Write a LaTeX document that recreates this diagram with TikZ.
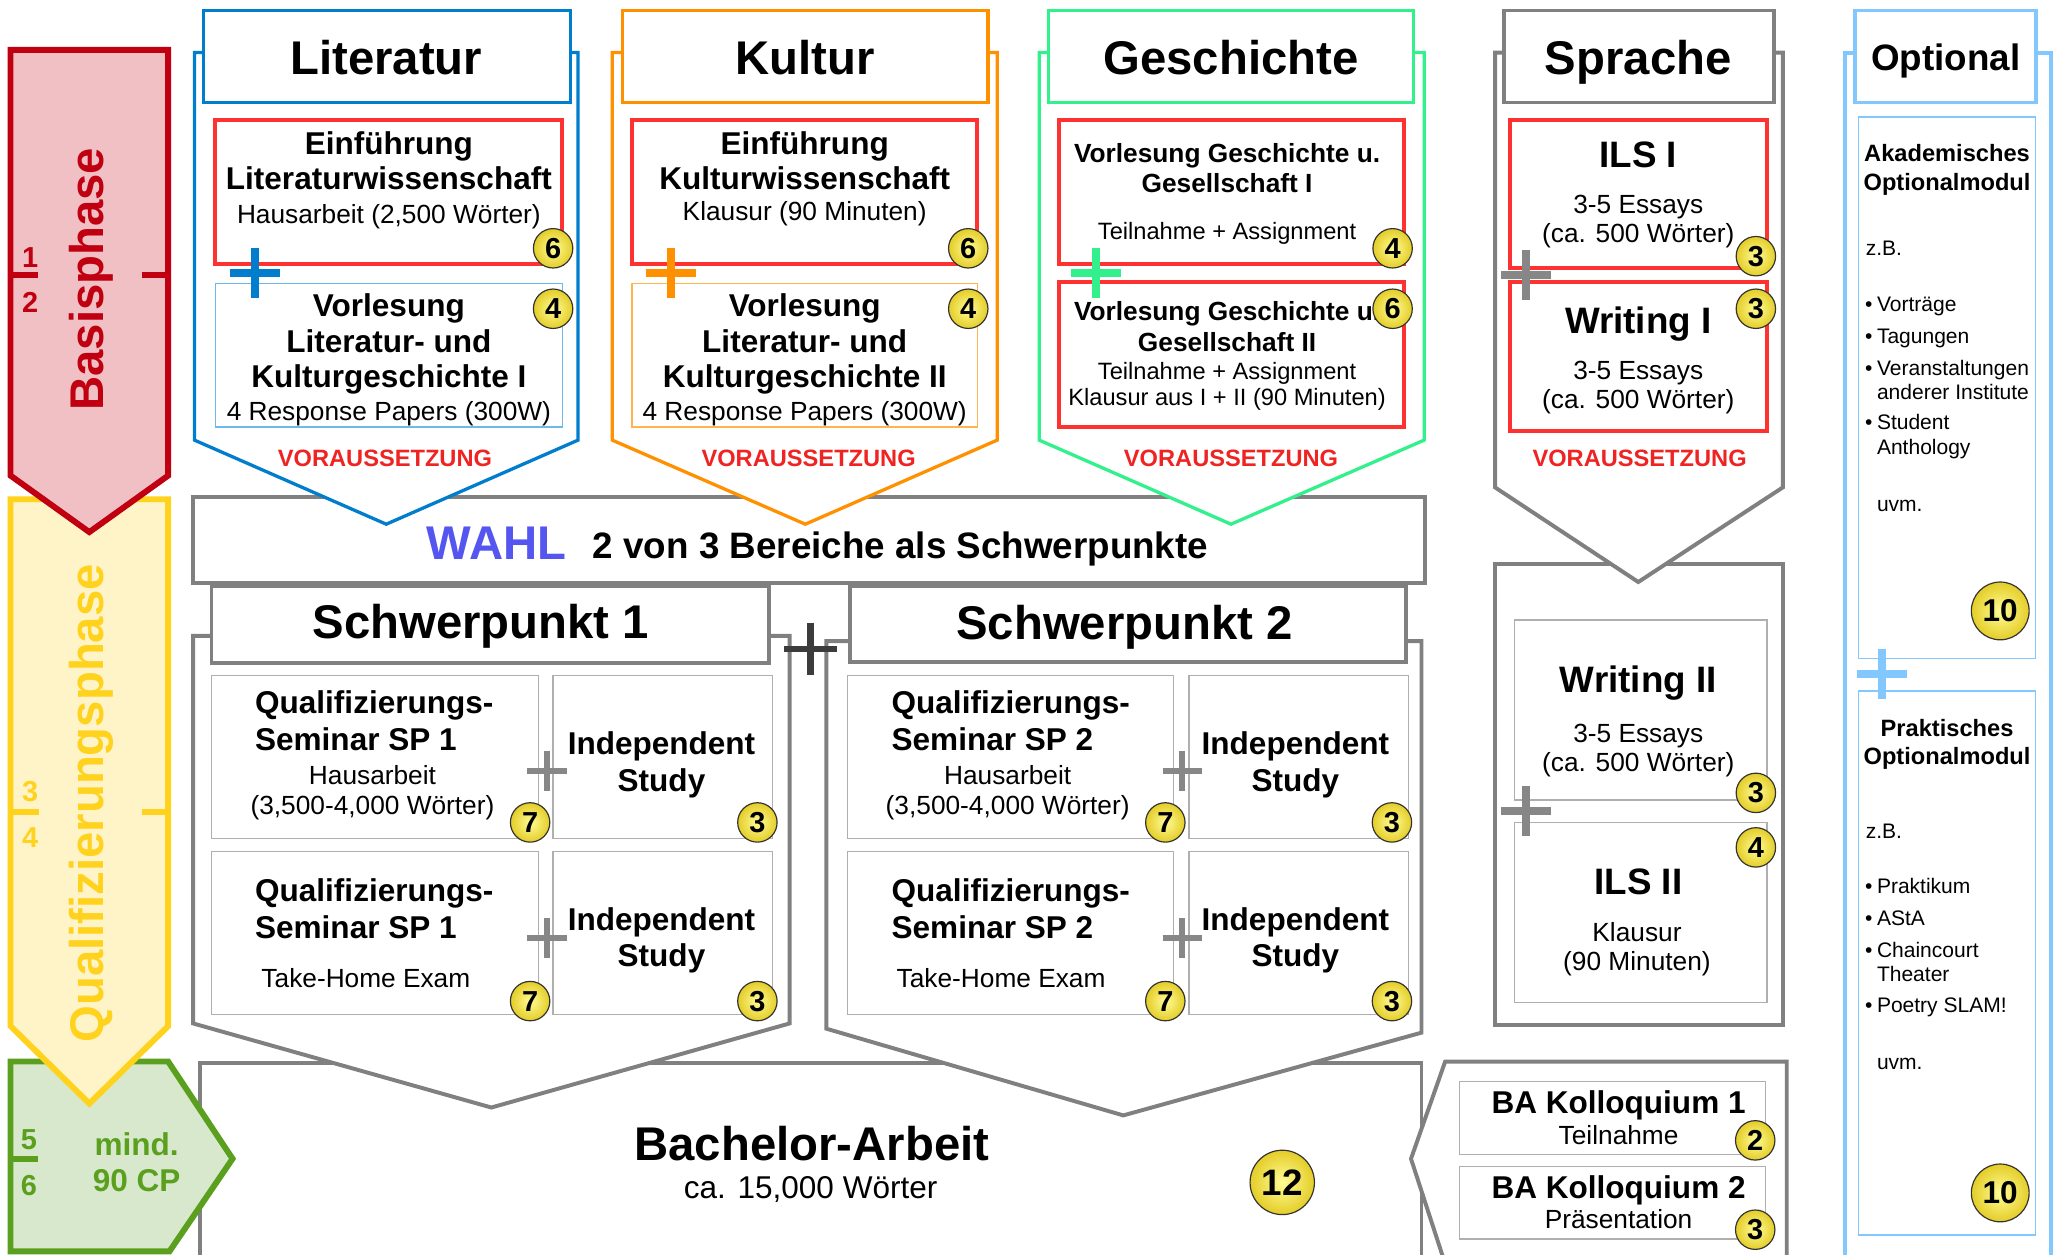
\documentclass[tikz,border=0pt]{standalone}
\usepackage{fontspec}
\setmainfont{Liberation Sans}
\usetikzlibrary{calc}

\definecolor{litblue}{RGB}{0,125,205}
\definecolor{litlight}{RGB}{110,185,235}
\definecolor{kulorange}{RGB}{255,145,0}
\definecolor{kullight}{RGB}{255,180,80}
\definecolor{gesgreen}{RGB}{50,240,140}
\definecolor{modred}{RGB}{255,50,50}
\definecolor{vorred}{RGB}{240,35,35}
\definecolor{framegray}{RGB}{128,128,128}
\definecolor{thingray}{RGB}{175,175,175}
\definecolor{plusgray}{RGB}{135,135,135}
\definecolor{darkplus}{RGB}{60,60,60}
\definecolor{optblue}{RGB}{130,200,255}
\definecolor{basisred}{RGB}{192,0,16}
\definecolor{basisfill}{RGB}{240,192,196}
\definecolor{qualiyellow}{RGB}{255,210,30}
\definecolor{qualifill}{RGB}{255,243,200}
\definecolor{bagreen}{RGB}{90,160,30}
\definecolor{bafill}{RGB}{216,232,204}
\definecolor{wahlblue}{RGB}{85,85,240}
\definecolor{badgelight}{RGB}{255,252,150}
\definecolor{badgedark}{RGB}{228,205,40}

\def\plusmark[#1](#2)(#3){\draw[#1] ($(#2)+(-#3,0)$) -- ($(#2)+(#3,0)$); \draw[#1] ($(#2)+(0,-#3)$) -- ($(#2)+(0,#3)$);}
\def\cpbadge(#1)#2#3{\node[badge] (#2) at (#1) {#3};}

\tikzset{
  headtxt/.style={font=\fontsize{36}{40}\selectfont\bfseries, anchor=base, inner sep=0pt},
  bigtxt/.style={font=\fontsize{28}{32}\selectfont\bfseries, anchor=base, inner sep=0pt},
  modtxt/.style={font=\fontsize{24}{28}\selectfont\bfseries, anchor=base, inner sep=0pt},
  subtxt/.style={font=\fontsize{20}{23}\selectfont, anchor=base, inner sep=0pt},
  gestxt/.style={font=\fontsize{20}{23}\selectfont\bfseries, anchor=base, inner sep=0pt},
  smalltxt/.style={font=\fontsize{18}{21}\selectfont, anchor=base, inner sep=0pt},
  vortxt/.style={font=\fontsize{18}{21}\selectfont\bfseries, text=vorred, anchor=base, inner sep=0pt},
  opthead/.style={font=\fontsize{18}{21}\selectfont\bfseries, anchor=base, inner sep=0pt},
  opttxt/.style={font=\fontsize{16}{19}\selectfont, anchor=base west, inner sep=0pt},
  phasenum/.style={font=\fontsize{22}{24}\selectfont\bfseries, anchor=base, inner sep=0pt},
  phaselabel/.style={font=\fontsize{36}{40}\selectfont\bfseries, anchor=base, inner sep=0pt, rotate=90},
  badge/.style={circle, draw=black!80, line width=0.9pt, minimum size=30pt, inner sep=0pt,
    inner color=badgelight, outer color=badgedark, font=\fontsize{22}{24}\selectfont\bfseries},
  colframe/.style={fill=white, line width=2.5pt},
  modframe/.style={draw=modred, line width=3pt},
  thinframe/.style={draw=thingray, line width=1pt},
  grayframe/.style={draw=framegray, fill=white, line width=3pt},
}

\begin{document}
\begin{tikzpicture}[x=1pt, y=-1pt]
		%%%%% START %%%%%
		\useasboundingbox (0,0) rectangle (1568,955);
		\fill[white] (0,0) rectangle (1568,955);
		
		%%%%% bachelor %%%%%
		\draw[grayframe] (152,809) rectangle (1082,962);
		\node[headtxt] (baTitle) at (618,883) {Bachelor-Arbeit};
		\node[font=\fontsize{24}{28}\selectfont, anchor=base, inner sep=0pt] (baSub) at (617,912.5) {ca. 15,000 Wörter};
		\node[badge, minimum size=49pt, font=\fontsize{28}{30}\selectfont\bfseries] (baCp) at (976,900) {12};
		
		\draw[grayframe] (1100,808) -- (1360,808) -- (1360,962) -- (1100,962) -- (1074,882) -- cycle;
		\draw[thinframe] (1111,823) rectangle (1344,879);
		\draw[thinframe] (1111,888) rectangle (1344,943);
		\node[modtxt] (kolOneA) at (1232,847.5) {BA Kolloquium 1};
		\node[subtxt] (kolOneB) at (1232,871) {Teilnahme};
		\node[modtxt] (kolTwoA) at (1232,912) {BA Kolloquium 2};
		\node[subtxt] (kolTwoB) at (1232,935) {Präsentation};
		\cpbadge(1336,868){kolCpA}{2};
		\cpbadge(1336,936){kolCpB}{3};
		
		%%%%% phases %%%%%
		\draw[draw=bagreen, fill=bafill, line width=4.5pt] (8,808) -- (128,808) -- (177,882) -- (129,952.5) -- (8,952.5) -- cycle;
		\draw[bagreen, line width=4.5pt] (8,882) -- (29,882);
		\node[phasenum, text=bagreen] (numFive) at (22,875) {5};
		\node[phasenum, text=bagreen] (numSix) at (22,910) {6};
		\node[modtxt, text=bagreen] (minCpA) at (104,879.5) {mind.};
		\node[modtxt, text=bagreen] (minCpB) at (104,907) {90 CP};
		
		\draw[draw=qualiyellow, fill=qualifill, line width=4.5pt] (8,380) -- (128,380) -- (128,781) -- (68,840) -- (8,781) -- cycle;
		\draw[qualiyellow, line width=4.5pt] (8,618) -- (30,618);
		\draw[qualiyellow, line width=4.5pt] (108,618) -- (128,618);
		\node[phasenum, text=qualiyellow] (numThree) at (23,610) {3};
		\node[phasenum, text=qualiyellow] (numFour) at (23,645) {4};
		\node[phaselabel, text=qualiyellow] (qualiLabel) at (78.5,611.5) {Qualifizierungsphase};
		
		\draw[draw=basisred, fill=basisfill, line width=4.5pt] (8,38) -- (128,38) -- (128,362) -- (68,405) -- (8,362) -- cycle;
		\draw[basisred, line width=4.5pt] (8,209) -- (29,209);
		\draw[basisred, line width=4.5pt] (108,209) -- (128,209);
		\node[phasenum, text=basisred] (numOne) at (23,203.5) {1};
		\node[phasenum, text=basisred] (numTwo) at (23,237.5) {2};
		\node[phaselabel, text=basisred] (basisLabel) at (78.5,212.5) {Basisphase};
		
		%%%%% schwerpunkte %%%%%
		\draw[grayframe] (147,484) -- (147,779) -- (374,843) -- (601,779) -- (601,484) -- cycle;
		\draw[grayframe] (629,488) -- (629,783) -- (855,849) -- (1082,786) -- (1082,488) -- cycle;
		
		\draw[thinframe] (161,514) rectangle (410,638);
		\draw[thinframe] (421,514) rectangle (588,638);
		\draw[thinframe] (161,648) rectangle (410,772);
		\draw[thinframe] (421,648) rectangle (588,772);
		\node[modtxt, anchor=base west] (spOneSemA) at (194,543) {Qualifizierungs-};
		\node[modtxt, anchor=base west] (spOneSemB) at (194,571.5) {Seminar SP 1};
		\node[subtxt] (spOneSemC) at (283.5,597.5) {Hausarbeit};
		\node[subtxt] (spOneSemD) at (283.5,620) {(3,500-4,000 Wörter)};
		\node[modtxt] (spOneIndA) at (503.5,574.5) {Independent};
		\node[modtxt] (spOneIndB) at (503.5,602.5) {Study};
		\node[modtxt, anchor=base west] (spOneExamA) at (194,686) {Qualifizierungs-};
		\node[modtxt, anchor=base west] (spOneExamB) at (194,714) {Seminar SP 1};
		\node[subtxt] (spOneExamC) at (278.5,752) {Take-Home Exam};
		\node[modtxt] (spOneIndC) at (503.5,708) {Independent};
		\node[modtxt] (spOneIndD) at (503.5,735.5) {Study};
		\plusmark[plusgray, line width=4.5pt](416.5,587)(15);
		\plusmark[plusgray, line width=4.5pt](416.5,714)(15);
		\cpbadge(403.5,626){spOneCpA}{7};
		\cpbadge(576.5,626){spOneCpB}{3};
		\cpbadge(403.5,762){spOneCpC}{7};
		\cpbadge(576.5,762){spOneCpD}{3};
		
		\draw[thinframe] (645,514) rectangle (893,638);
		\draw[thinframe] (905,514) rectangle (1072,638);
		\draw[thinframe] (645,648) rectangle (893,772);
		\draw[thinframe] (905,648) rectangle (1072,772);
		\node[modtxt, anchor=base west] (spTwoSemA) at (678.5,543) {Qualifizierungs-};
		\node[modtxt, anchor=base west] (spTwoSemB) at (678.5,571.5) {Seminar SP 2};
		\node[subtxt] (spTwoSemC) at (767,597.5) {Hausarbeit};
		\node[subtxt] (spTwoSemD) at (767,620) {(3,500-4,000 Wörter)};
		\node[modtxt] (spTwoIndA) at (986,574.5) {Independent};
		\node[modtxt] (spTwoIndB) at (986,602.5) {Study};
		\node[modtxt, anchor=base west] (spTwoExamA) at (678.5,686) {Qualifizierungs-};
		\node[modtxt, anchor=base west] (spTwoExamB) at (678.5,714) {Seminar SP 2};
		\node[subtxt] (spTwoExamC) at (762,752) {Take-Home Exam};
		\node[modtxt] (spTwoIndC) at (986,708) {Independent};
		\node[modtxt] (spTwoIndD) at (986,735.5) {Study};
		\plusmark[plusgray, line width=4.5pt](900,587)(15);
		\plusmark[plusgray, line width=4.5pt](900,714)(15);
		\cpbadge(887,626){spTwoCpA}{7};
		\cpbadge(1059.5,626){spTwoCpB}{3};
		\cpbadge(887,762){spTwoCpC}{7};
		\cpbadge(1059.5,762){spTwoCpD}{3};
		
		\draw[grayframe] (147,378) rectangle (1085,444);
		\node[headtxt, text=wahlblue] (wahlWord) at (378,426) {WAHL};
		\node[bigtxt, anchor=base west] (wahlText) at (451,425) {2 von 3 Bereiche als Schwerpunkte};
		
		\draw[grayframe] (161,446) rectangle (585,505);
		\node[headtxt] (spOneHead) at (366,486) {Schwerpunkt 1};
		\draw[grayframe] (647,446) rectangle (1070,504);
		\node[headtxt] (spTwoHead) at (856,487) {Schwerpunkt 2};
		
		%%%%% literatur %%%%%
		\draw[colframe, draw=litblue] (148,40) -- (148,335) -- (294,399) -- (440,335) -- (440,40) -- cycle;
		\draw[colframe, draw=litblue] (155,8) rectangle (434,78);
		\node[headtxt] (litHead) at (294,56.5) {Literatur};
		\draw[modframe] (164,91) rectangle (428,201);
		\node[modtxt] (litIntroA) at (296,117.3) {Einführung};
		\node[modtxt] (litIntroB) at (296,144) {Literaturwissenschaft};
		\node[subtxt] (litIntroC) at (296,170) {Hausarbeit (2,500 Wörter)};
		\draw[draw=litlight, line width=1pt] (164,216) rectangle (428,325);
		\node[modtxt] (litLecA) at (296,241) {Vorlesung};
		\node[modtxt] (litLecB) at (296,268) {Literatur- und};
		\node[modtxt] (litLecC) at (296,295.3) {Kulturgeschichte I};
		\node[subtxt] (litLecD) at (296,319.7) {4 Response Papers (300W)};
		\node[vortxt] (litReq) at (293,355) {VORAUSSETZUNG};
		\plusmark[litblue, line width=6pt](194,208)(19);
		\cpbadge(421,189){litCpA}{6};
		\cpbadge(421,235){litCpB}{4};
		
		%%%%% kultur %%%%%
		\draw[colframe, draw=kulorange] (466,40) -- (466,335) -- (613,399) -- (759,335) -- (759,40) -- cycle;
		\draw[colframe, draw=kulorange] (474,8) rectangle (752,78);
		\node[headtxt] (kulHead) at (613,57) {Kultur};
		\draw[modframe] (481,91) rectangle (744,201);
		\node[modtxt] (kulIntroA) at (612.5,117.3) {Einführung};
		\node[modtxt] (kulIntroB) at (612.5,144) {Kulturwissenschaft};
		\node[subtxt] (kulIntroC) at (612.5,167.5) {Klausur (90 Minuten)};
		\draw[draw=kullight, line width=1pt] (481,216) rectangle (744,325);
		\node[modtxt] (kulLecA) at (612.5,241) {Vorlesung};
		\node[modtxt] (kulLecB) at (612.5,268) {Literatur- und};
		\node[modtxt] (kulLecC) at (612.5,295.3) {Kulturgeschichte II};
		\node[subtxt] (kulLecD) at (612.5,319.7) {4 Response Papers (300W)};
		\node[vortxt] (kulReq) at (615.5,355) {VORAUSSETZUNG};
		\plusmark[kulorange, line width=6pt](510.5,208)(19);
		\cpbadge(737,189){kulCpA}{6};
		\cpbadge(737,235){kulCpB}{4};
		
		%%%%% geschichte %%%%%
		\draw[colframe, draw=gesgreen] (791,40) -- (791,335) -- (937,399) -- (1084,335) -- (1084,40) -- cycle;
		\draw[colframe, draw=gesgreen] (798,8) rectangle (1076,78);
		\node[headtxt] (gesHead) at (937,57) {Geschichte};
		\draw[modframe] (806,91) rectangle (1069,201);
		\node[gestxt] (gesLecA) at (934,124) {Vorlesung Geschichte u.};
		\node[gestxt] (gesLecB) at (934,146.5) {Gesellschaft I};
		\node[smalltxt] (gesLecC) at (934,182.5) {Teilnahme + Assignment};
		\draw[modframe] (806,215) rectangle (1069,325);
		\node[gestxt] (gesLecD) at (934,244.2) {Vorlesung Geschichte u.};
		\node[gestxt] (gesLecE) at (934,267.2) {Gesellschaft II};
		\node[smalltxt] (gesLecF) at (934,289) {Teilnahme + Assignment};
		\node[smalltxt] (gesLecG) at (934,308.7) {Klausur aus I + II (90 Minuten)};
		\node[vortxt] (gesReq) at (937,355) {VORAUSSETZUNG};
		\plusmark[gesgreen, line width=6pt](834,208)(19);
		\cpbadge(1060,189){gesCpA}{4};
		\cpbadge(1060,235){gesCpB}{6};
		
		%%%%% sprache %%%%%
		\draw[grayframe] (1138,429) rectangle (1357,780);
		\draw[grayframe] (1138,40) -- (1138,371) -- (1247,443) -- (1357,371) -- (1357,40) -- cycle;
		\draw[grayframe] (1145,8) rectangle (1350,78);
		\node[headtxt] (sprHead) at (1247,57) {Sprache};
		\draw[modframe] (1149,91) rectangle (1345,204);
		\node[bigtxt] (ilsOneA) at (1247,127.2) {ILS I};
		\node[subtxt] (ilsOneB) at (1247,162.5) {3-5 Essays};
		\node[subtxt] (ilsOneC) at (1247,184.6) {(ca. 500 Wörter)};
		\draw[modframe] (1149,215) rectangle (1345,328);
		\node[bigtxt] (wriOneA) at (1247,254) {Writing I};
		\node[subtxt] (wriOneB) at (1247,289) {3-5 Essays};
		\node[subtxt] (wriOneC) at (1247,311) {(ca. 500 Wörter)};
		\node[vortxt] (sprReq) at (1248,355) {VORAUSSETZUNG};
		\plusmark[plusgray, line width=6pt](1161.5,209)(19);
		\cpbadge(1336.5,195){ilsOneCp}{3};
		\cpbadge(1336.5,235){wriOneCp}{3};
		
		\draw[thinframe] (1153,472) rectangle (1345,609);
		\node[bigtxt] (wriTwoA) at (1247,526.8) {Writing II};
		\node[subtxt] (wriTwoB) at (1247,565) {3-5 Essays};
		\node[subtxt] (wriTwoC) at (1247,587) {(ca. 500 Wörter)};
		\draw[thinframe] (1153,626) rectangle (1345,763);
		\node[bigtxt] (ilsTwoA) at (1247,680.6) {ILS II};
		\node[subtxt] (ilsTwoB) at (1246,717) {Klausur};
		\node[subtxt] (ilsTwoC) at (1246,739) {(90 Minuten)};
		\plusmark[plusgray, line width=6pt](1161.5,617)(19);
		\cpbadge(1336.5,603.5){wriTwoCp}{3};
		\cpbadge(1336.5,645){ilsTwoCp}{4};
		
		%%%%% optional %%%%%
		\draw[draw=optblue, fill=white, line width=3pt] (1404,40) rectangle (1561,962);
		\draw[draw=optblue, fill=white, line width=3pt] (1412,8) rectangle (1550,78);
		\node[bigtxt] (optHead) at (1481,54) {Optional};
		\draw[draw=optblue, line width=1pt] (1414.5,89) rectangle (1549.5,501);
		\node[opthead] (akaA) at (1482,123) {Akademisches};
		\node[opthead] (akaB) at (1482,145) {Optionalmodul};
		\node[opttxt] (akaC) at (1420,194.5) {z.B.};
		\node[opttxt] (akaD) at (1419.5,237) {\makebox[9pt][l]{•}Vorträge};
		\node[opttxt] (akaE) at (1419.5,261.3) {\makebox[9pt][l]{•}Tagungen};
		\node[opttxt] (akaF) at (1419.5,286.1) {\makebox[9pt][l]{•}Veranstaltungen};
		\node[opttxt] (akaG) at (1428.5,303.8) {anderer Institute};
		\node[opttxt] (akaH) at (1419.5,326.8) {\makebox[9pt][l]{•}Student};
		\node[opttxt] (akaI) at (1428.5,345.6) {Anthology};
		\node[opttxt] (akaJ) at (1428.5,389) {uvm.};
		\node[badge, minimum size=44pt, font=\fontsize{24}{26}\selectfont\bfseries] (akaCp) at (1522.5,465) {10};
		
		\draw[draw=optblue, line width=1pt] (1414.5,526) rectangle (1549.5,940);
		\node[opthead] (praA) at (1482,560.5) {Praktisches};
		\node[opthead] (praB) at (1482,582) {Optionalmodul};
		\node[opttxt] (praC) at (1420,638.3) {z.B.};
		\node[opttxt] (praD) at (1419.5,679.8) {\makebox[9pt][l]{•}Praktikum};
		\node[opttxt] (praE) at (1419.5,704.3) {\makebox[9pt][l]{•}AStA};
		\node[opttxt] (praF) at (1419.5,728.7) {\makebox[9pt][l]{•}Chaincourt};
		\node[opttxt] (praG) at (1428.5,746.8) {Theater};
		\node[opttxt] (praH) at (1419.5,770.8) {\makebox[9pt][l]{•}Poetry SLAM!};
		\node[opttxt] (praI) at (1428.5,813.8) {uvm.};
		\node[badge, minimum size=44pt, font=\fontsize{24}{26}\selectfont\bfseries] (praCp) at (1522.5,908) {10};
		\plusmark[optblue, line width=6pt](1432.5,513)(19);
		
		\plusmark[darkplus, line width=5pt](617,494)(20);
		
		%%%%% END %%%%%
	\end{tikzpicture}
\end{document}
